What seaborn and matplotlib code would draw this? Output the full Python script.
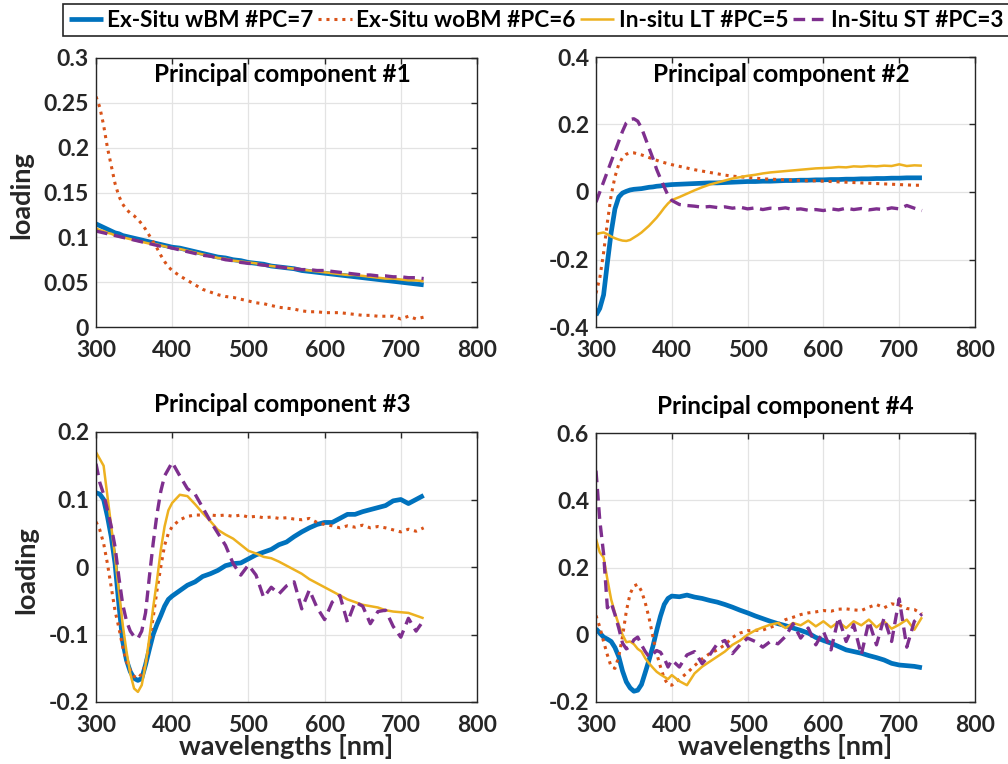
import matplotlib
matplotlib.use("Agg")
import matplotlib.pyplot as plt
import seaborn as sns
import pandas as pd

# ---------------- data ----------------
wavelength = [300, 305, 310, 315, 320, 325, 330, 335, 340, 345, 350, 355, 360, 365, 370, 375, 380, 385, 390, 395, 400,
              410, 420, 430, 440, 450, 460, 470, 480, 490, 500,
              510, 520, 530, 540, 550, 560, 570, 580, 590, 600,
              610, 620, 630, 640, 650, 660, 670, 680, 690, 700,
              710, 720, 730]

series_names = ["Ex-Situ wBM #PC=7", "Ex-Situ woBM #PC=6", "In-situ LT #PC=5", "In-Situ ST #PC=3"]

# Principal component #1
pc1_exsitu_wbm = [0.115, 0.113, 0.111, 0.109, 0.107, 0.105, 0.104, 0.102, 0.101, 0.100, 0.099, 0.098, 0.097, 0.096, 0.095, 0.094, 0.093, 0.092, 0.091, 0.090, 0.089,
                  0.088, 0.086, 0.084, 0.082, 0.080, 0.078, 0.077, 0.075, 0.074, 0.072,
                  0.071, 0.070, 0.068, 0.067, 0.066, 0.065, 0.063, 0.062, 0.061, 0.060,
                  0.059, 0.058, 0.057, 0.056, 0.055, 0.054, 0.053, 0.052, 0.051, 0.050,
                  0.049, 0.048, 0.047]
pc1_exsitu_wobm = [0.257, 0.245, 0.225, 0.200, 0.180, 0.160, 0.146, 0.137, 0.131, 0.127, 0.124, 0.120, 0.115, 0.109, 0.102, 0.095, 0.088, 0.080, 0.073, 0.067, 0.063,
                   0.057, 0.052, 0.047, 0.042, 0.039, 0.036, 0.034, 0.033, 0.031, 0.029,
                   0.027, 0.026, 0.024, 0.022, 0.021, 0.020, 0.018, 0.017, 0.017, 0.016,
                   0.016, 0.016, 0.015, 0.014, 0.013, 0.013, 0.012, 0.012, 0.012, 0.009,
                   0.012, 0.009, 0.011]
pc1_insitu_lt = [0.110, 0.108, 0.107, 0.105, 0.104, 0.102, 0.101, 0.100, 0.099, 0.098, 0.097, 0.096, 0.095, 0.094, 0.093, 0.093, 0.092, 0.091, 0.090, 0.089, 0.088,
                 0.087, 0.085, 0.083, 0.081, 0.079, 0.077, 0.076, 0.074, 0.073, 0.072,
                 0.071, 0.069, 0.068, 0.067, 0.066, 0.065, 0.064, 0.063, 0.062, 0.061,
                 0.060, 0.059, 0.058, 0.058, 0.057, 0.056, 0.055, 0.054, 0.054, 0.053,
                 0.052, 0.052, 0.051]
pc1_insitu_st = [0.107, 0.106, 0.105, 0.104, 0.103, 0.102, 0.101, 0.100, 0.099, 0.098, 0.097, 0.096, 0.095, 0.094, 0.093, 0.092, 0.091, 0.090, 0.089, 0.089, 0.088,
                 0.086, 0.084, 0.082, 0.080, 0.079, 0.077, 0.075, 0.074, 0.072, 0.071,
                 0.070, 0.069, 0.068, 0.067, 0.066, 0.065, 0.064, 0.064, 0.063, 0.063,
                 0.062, 0.061, 0.060, 0.059, 0.058, 0.058, 0.057, 0.057, 0.056, 0.056,
                 0.055, 0.055, 0.054]

# Principal component #2
pc2_exsitu_wbm = [-0.365, -0.345, -0.305, -0.210, -0.120, -0.050, -0.015, -0.003, 0.002, 0.006, 0.008, 0.009, 0.010, 0.012, 0.014, 0.015, 0.017, 0.018, 0.020, 0.021, 0.022,
                  0.023, 0.024, 0.025, 0.026, 0.027, 0.027, 0.028, 0.029, 0.030, 0.031,
                  0.031, 0.032, 0.032, 0.033, 0.034, 0.034, 0.035, 0.035, 0.036, 0.036,
                  0.037, 0.037, 0.038, 0.038, 0.039, 0.039, 0.040, 0.040, 0.041, 0.041,
                  0.042, 0.042, 0.042]
pc2_exsitu_wobm = [-0.300, -0.255, -0.180, -0.090, -0.010, 0.045, 0.082, 0.102, 0.112, 0.116, 0.116, 0.113, 0.110, 0.106, 0.102, 0.098, 0.094, 0.090, 0.087, 0.084, 0.081,
                   0.076, 0.071, 0.066, 0.062, 0.058, 0.054, 0.050, 0.047, 0.045, 0.043,
                   0.041, 0.039, 0.038, 0.037, 0.036, 0.035, 0.034, 0.033, 0.033, 0.032,
                   0.031, 0.030, 0.029, 0.028, 0.027, 0.026, 0.025, 0.024, 0.023, 0.022,
                   0.021, 0.020, 0.020]
pc2_insitu_lt = [-0.125, -0.122, -0.120, -0.125, -0.132, -0.137, -0.141, -0.144, -0.145, -0.142, -0.135, -0.128, -0.120, -0.110, -0.100, -0.088, -0.076, -0.062, -0.047, -0.034, -0.024,
                 -0.015, -0.005, 0.005, 0.014, 0.022, 0.028, 0.034, 0.040, 0.044, 0.048,
                 0.051, 0.055, 0.058, 0.060, 0.062, 0.064, 0.066, 0.068, 0.070, 0.071,
                 0.072, 0.074, 0.073, 0.076, 0.075, 0.077, 0.076, 0.078, 0.077, 0.082,
                 0.077, 0.079, 0.078]
pc2_insitu_st = [-0.030, 0.000, 0.030, 0.060, 0.090, 0.120, 0.150, 0.180, 0.205, 0.215, 0.217, 0.210, 0.190, 0.160, 0.130, 0.100, 0.067, 0.040, 0.015, -0.010, -0.025,
                 -0.037, -0.040, -0.042, -0.045, -0.043, -0.046, -0.044, -0.048, -0.045, -0.050,
                 -0.047, -0.052, -0.048, -0.050, -0.047, -0.052, -0.050, -0.054, -0.052, -0.055,
                 -0.050, -0.053, -0.048, -0.052, -0.049, -0.053, -0.050, -0.052, -0.047, -0.050,
                 -0.040, -0.048, -0.055]

# Principal component #3
pc3_exsitu_wbm = [0.110, 0.108, 0.100, 0.075, 0.045, 0.005, -0.055, -0.110, -0.138, -0.155, -0.165, -0.168, -0.165, -0.145, -0.122, -0.100, -0.085, -0.072, -0.058, -0.048, -0.043,
                  -0.035, -0.027, -0.022, -0.014, -0.010, -0.005, 0.002, 0.005, 0.006, 0.012,
                  0.018, 0.022, 0.026, 0.033, 0.037, 0.045, 0.052, 0.058, 0.063, 0.066,
                  0.066, 0.072, 0.078, 0.078, 0.082, 0.085, 0.088, 0.091, 0.098, 0.100,
                  0.094, 0.100, 0.106]
pc3_exsitu_wobm = [0.067, 0.055, 0.035, 0.005, -0.030, -0.065, -0.090, -0.118, -0.140, -0.153, -0.162, -0.165, -0.158, -0.145, -0.112, -0.075, -0.035, 0.000, 0.032, 0.050, 0.060,
                   0.070, 0.075, 0.077, 0.077, 0.077, 0.076, 0.077, 0.075, 0.077, 0.074,
                   0.075, 0.073, 0.074, 0.072, 0.073, 0.071, 0.070, 0.072, 0.066, 0.063,
                   0.061, 0.058, 0.061, 0.059, 0.062, 0.058, 0.060, 0.058, 0.055, 0.052,
                   0.056, 0.053, 0.058]
pc3_insitu_lt = [0.170, 0.160, 0.150, 0.105, 0.060, 0.015, -0.035, -0.085, -0.125, -0.158, -0.180, -0.185, -0.175, -0.145, -0.105, -0.060, -0.020, 0.025, 0.060, 0.084, 0.095,
                 0.107, 0.105, 0.093, 0.080, 0.068, 0.055, 0.048, 0.042, 0.033, 0.024,
                 0.020, 0.015, 0.013, 0.008, 0.002, -0.004, -0.010, -0.018, -0.024, -0.030,
                 -0.036, -0.042, -0.048, -0.052, -0.056, -0.058, -0.060, -0.064, -0.066, -0.067,
                 -0.068, -0.072, -0.076]
pc3_insitu_st = [0.153, 0.125, 0.108, 0.085, 0.060, 0.030, -0.015, -0.055, -0.080, -0.095, -0.103, -0.106, -0.095, -0.068, -0.015, 0.035, 0.078, 0.112, 0.135, 0.145, 0.155,
                 0.135, 0.116, 0.108, 0.088, 0.068, 0.050, 0.032, 0.005, -0.012, 0.003,
                 -0.012, -0.045, -0.030, -0.040, -0.028, -0.022, -0.062, -0.034, -0.060, -0.078,
                 -0.052, -0.042, -0.082, -0.052, -0.058, -0.084, -0.066, -0.064, -0.088, -0.104,
                 -0.076, -0.095, -0.079]

# Principal component #4
pc4_exsitu_wbm = [0.018, 0.005, -0.007, -0.013, -0.020, -0.038, -0.065, -0.108, -0.140, -0.158, -0.168, -0.165, -0.148, -0.112, -0.075, -0.035, 0.012, 0.055, 0.090, 0.108, 0.115,
                  0.113, 0.118, 0.112, 0.108, 0.102, 0.097, 0.090, 0.082, 0.073, 0.065,
                  0.056, 0.048, 0.040, 0.033, 0.027, 0.020, 0.013, 0.005, -0.008, -0.017,
                  -0.025, -0.035, -0.045, -0.050, -0.055, -0.062, -0.068, -0.075, -0.085, -0.090,
                  -0.092, -0.094, -0.098]
pc4_exsitu_wobm = [0.057, 0.023, -0.020, -0.060, -0.095, -0.100, -0.065, -0.005, 0.070, 0.122, 0.145, 0.150, 0.130, 0.095, 0.050, -0.005, -0.055, -0.095, -0.130, -0.148, -0.150,
                   -0.132, -0.114, -0.092, -0.072, -0.056, -0.045, -0.030, -0.008, 0.005, 0.012,
                   0.013, 0.014, 0.022, 0.030, 0.045, 0.052, 0.060, 0.065, 0.068, 0.072,
                   0.070, 0.076, 0.077, 0.074, 0.072, 0.082, 0.090, 0.080, 0.092, 0.088,
                   0.078, 0.075, 0.062]
pc4_insitu_lt = [0.285, 0.245, 0.230, 0.165, 0.105, 0.065, 0.030, 0.000, -0.022, -0.020, -0.028, -0.042, -0.050, -0.070, -0.085, -0.098, -0.110, -0.118, -0.125, -0.132, -0.120,
                 -0.138, -0.150, -0.115, -0.095, -0.080, -0.065, -0.050, -0.030, -0.017, 0.000,
                 0.013, 0.022, 0.030, 0.035, 0.020, 0.035, 0.028, 0.042, 0.025, 0.040,
                 0.022, 0.038, 0.020, 0.040, 0.028, 0.045, 0.022, 0.040, 0.018, 0.030,
                 0.045, 0.015, 0.052]
pc4_insitu_st = [0.488, 0.340, 0.241, 0.080, 0.095, 0.060, 0.020, -0.025, -0.042, -0.035, -0.015, -0.007, -0.030, -0.050, -0.066, -0.058, -0.047, -0.052, -0.070, -0.096, -0.075,
                 -0.096, -0.060, -0.050, -0.086, -0.060, -0.027, -0.017, -0.056, -0.030, -0.010,
                 -0.020, -0.037, -0.020, -0.027, -0.005, 0.033, -0.010, 0.020, -0.030, 0.010,
                 -0.045, 0.052, -0.020, 0.030, -0.060, 0.040, -0.030, 0.050, -0.020, 0.107,
                 -0.037, 0.040, 0.062]

panel_titles = ["Principal component #1", "Principal component #2",
                "Principal component #3", "Principal component #4"]
x_ticks = [300, 400, 500, 600, 700, 800]
y_ticks = [[0, 0.05, 0.1, 0.15, 0.2, 0.25, 0.3],
           [-0.4, -0.2, 0, 0.2, 0.4],
           [-0.2, -0.1, 0, 0.1, 0.2],
           [-0.2, 0, 0.2, 0.4, 0.6]]
y_ticklabels = [["0", "0.05", "0.1", "0.15", "0.2", "0.25", "0.3"],
                ["-0.4", "-0.2", "0", "0.2", "0.4"],
                ["-0.2", "-0.1", "0", "0.1", "0.2"],
                ["-0.2", "0", "0.2", "0.4", "0.6"]]

panels = [
    [pc1_exsitu_wbm, pc1_exsitu_wobm, pc1_insitu_lt, pc1_insitu_st],
    [pc2_exsitu_wbm, pc2_exsitu_wobm, pc2_insitu_lt, pc2_insitu_st],
    [pc3_exsitu_wbm, pc3_exsitu_wobm, pc3_insitu_lt, pc3_insitu_st],
    [pc4_exsitu_wbm, pc4_exsitu_wobm, pc4_insitu_lt, pc4_insitu_st],
]

# ---------------- style ----------------
sns.set_style("white")
FONT = ["Lato", "DejaVu Sans"]
plt.rcParams["font.family"] = FONT
plt.rcParams["font.weight"] = "bold"
plt.rcParams["axes.unicode_minus"] = False

colors = ["#0072BD", "#D95319", "#EDB120", "#7E2F8E"]
styles = [dict(lw=3.4, ls="-"),
          dict(lw=2.2, ls=(0, (1, 1.6))),
          dict(lw=1.8, ls="-"),
          dict(lw=2.4, ls=(0, (3.5, 2.0)))]

W, H = 1008, 764
fig = plt.figure(figsize=(W / 100, H / 100), dpi=100)
fig.patch.set_facecolor("white")

# axes boxes in pixels: (left, top, right, bottom)
boxes = [(96, 58, 477, 327), (596, 57, 975, 327),
         (96, 432, 477, 702), (596, 433, 975, 702)]
axes = []
for (l, t, r, b) in boxes:
    ax = fig.add_axes([l / W, 1 - b / H, (r - l) / W, (b - t) / H])
    axes.append(ax)

tick_col = "#262626"
for i, ax in enumerate(axes):
    for j, vals in enumerate(panels[i]):
        df = pd.DataFrame({"wavelength": wavelength, "loading": vals})
        sns.lineplot(data=df, x="wavelength", y="loading", ax=ax, color=colors[j],
                     label=series_names[j] if i == 0 else None, legend=False,
                     solid_capstyle="butt", dash_capstyle="butt", **styles[j])
    ax.set_xlim(300, 800)
    ax.set_ylim(y_ticks[i][0], y_ticks[i][-1])
    ax.set_xticks(x_ticks)
    ax.set_xticklabels([str(v) for v in x_ticks])
    ax.set_yticks(y_ticks[i])
    ax.set_yticklabels(y_ticklabels[i])
    ax.grid(True, color="#e3e3e3", lw=0.9)
    ax.set_axisbelow(True)
    for s in ax.spines.values():
        s.set_color(tick_col)
        s.set_linewidth(1.0)
        s.set_visible(True)
    ax.tick_params(direction="in", length=4, width=1.0, top=True, right=True,
                   colors=tick_col, labelsize=16.5)
    ax.tick_params(axis="x", pad=9)
    ax.tick_params(axis="y", pad=5)
    for lab in ax.get_xticklabels() + ax.get_yticklabels():
        lab.set_fontweight("bold")
    ax.set_xlabel("")
    ax.set_ylabel("")

# titles
title_pos = [(0.49, 0.937), (0.489, 0.937), (0.49, 1.10), (0.50, 1.10)]
for ax, ttl, (tx, ty) in zip(axes, panel_titles, title_pos):
    ax.text(tx, ty, ttl, transform=ax.transAxes, ha="center", va="center",
            fontsize=17.5, fontweight="bold", color="black")

# axis labels
for ax, xc in [(axes[0], -0.165), (axes[2], -0.152)]:
    ax.set_ylabel("loading", fontsize=19.5, fontweight="bold", color=tick_col)
    ax.yaxis.set_label_coords(xc, 0.49)
for ax in (axes[2], axes[3]):
    ax.set_xlabel("wavelengths [nm]", fontsize=19.5, fontweight="bold", color=tick_col)
    ax.xaxis.set_label_coords(0.5, -0.118)

# legend
handles, labels = axes[0].get_legend_handles_labels()
leg = fig.legend(handles, labels, loc="upper left", bbox_to_anchor=(63 / W, 1 - 4 / H),
                 ncol=4, frameon=True, fancybox=False, framealpha=1,
                 handlelength=1.5, handletextpad=0.2, columnspacing=0.2,
                 borderpad=0.25, borderaxespad=0,
                 prop={"family": FONT, "weight": "bold", "size": 16.3})
leg.get_frame().set_edgecolor(tick_col)
leg.get_frame().set_linewidth(1.2)
for t in leg.get_texts():
    t.set_color("black")

fig.savefig("out.png", dpi=100)
